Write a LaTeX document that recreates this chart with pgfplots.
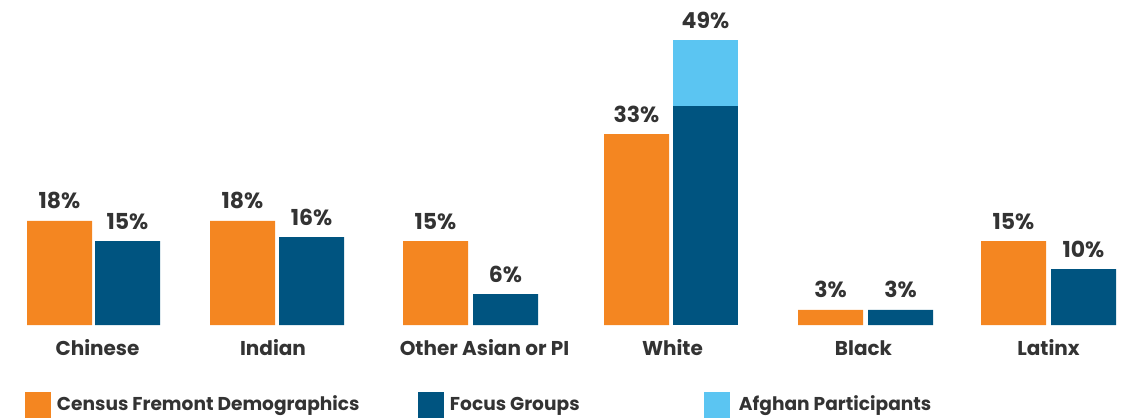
\documentclass[border=0pt]{standalone}
\usepackage{fontspec}
\setmainfont{Poppins}
\usepackage{pgfplots}
\pgfplotsset{compat=1.18}
\definecolor{corange}{HTML}{F48621}
\definecolor{cdblue}{HTML}{005480}
\definecolor{clblue}{HTML}{5BC5F2}
\definecolor{ctext}{HTML}{333333}
\begin{document}
\begin{tikzpicture}
\begin{axis}[
  scale only axis, width=568.5pt, height=209.5pt,
  xmin=0, xmax=1137, ymin=-16.26, ymax=56.23,
  axis lines=none, xtick=\empty, ytick=\empty,
  clip=false,
  ybar, bar width=65, bar shift=0pt,
  every node near coord/.style={font=\fontsize{11}{13}\selectfont\bfseries, text=ctext, anchor=base, yshift=6pt},
  legend columns=3,
  legend style={at={(axis cs:25,-13.84)}, anchor=west, draw=none, fill=none,
    inner sep=0pt, outer sep=0pt, nodes={inner sep=0pt, anchor=west}, column sep=0pt,
    font=\fontsize{9.3}{11}\selectfont\bfseries, text=ctext},
  legend image code/.code={\fill[#1] (0pt,-6.5pt) rectangle (13pt,6.5pt);},
]
% Afghan participants (total height of White focus-group bar)
\addplot[fill=clblue, draw=none, forget plot, point meta=explicit symbolic,
  nodes near coords={\pgfplotspointmeta\%}] table[meta=lab] {
x y lab
705.5 49.31 49
};
% Census Fremont demographics
\addplot[fill=corange, draw=none, forget plot, point meta=explicit symbolic,
  nodes near coords={\pgfplotspointmeta\%}] table[meta=lab] {
x y lab
59.5 18.0 18
242.5 18.0 18
435.5 14.53 15
636.5 33.04 33
830.5 2.6 3
1013.5 14.53 15
};
% Focus groups
\addplot[fill=cdblue, draw=none, forget plot, point meta=explicit symbolic,
  nodes near coords={\pgfplotspointmeta\%}] table[meta=lab] {
x y lab
127.5 14.53 15
311.5 15.22 16
505.5 5.36 6
900.5 2.6 3
1083.5 9.69 10
};
\addplot[fill=cdblue, draw=none, forget plot] table {
x y
705.5 37.9
};
\addlegendimage{fill=corange, draw=none}
\addlegendentry{\makebox[183.5pt][l]{\hspace{3pt}Census Fremont Demographics}}
\addlegendimage{fill=cdblue, draw=none}
\addlegendentry{\makebox[130pt][l]{\hspace{3pt}Focus Groups}}
\addlegendimage{fill=clblue, draw=none}
\addlegendentry{\makebox[120pt][l]{\hspace{4.5pt}Afghan Participants}}
\begin{scope}[every node/.style={font=\fontsize{10}{12}\selectfont\bfseries, text=ctext, anchor=base}]
\node at (axis cs:97.5,-5.19) {Chinese};
\node at (axis cs:273,-5.19) {Indian};
\node at (axis cs:484.5,-5.19) {Other Asian or PI};
\node at (axis cs:672.5,-5.19) {White};
\node at (axis cs:863.5,-5.19) {Black};
\node at (axis cs:1048.5,-5.19) {Latinx};
\end{scope}
\end{axis}
\pgfresetboundingbox
\useasboundingbox (0,0) rectangle (568.5pt,209.5pt);
\end{tikzpicture}
\end{document}
